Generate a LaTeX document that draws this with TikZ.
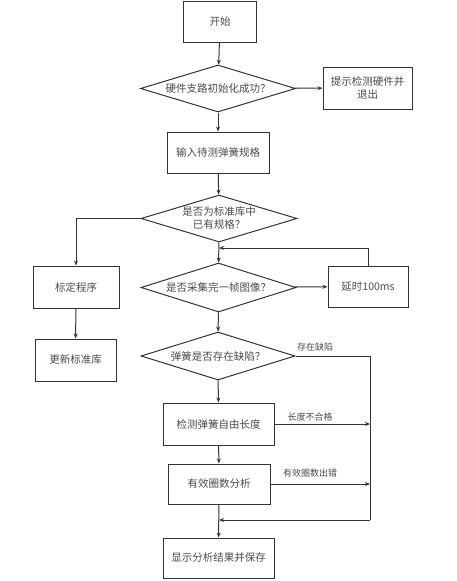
\documentclass[tikz,border=0pt]{standalone}
\usepackage{fontspec}
\setmainfont{Noto Sans CJK SC}
\usetikzlibrary{shapes.geometric,arrows.meta}
\definecolor{ln}{HTML}{333333}
\definecolor{tx}{HTML}{4A4A4A}
\tikzset{
  base/.style={font=\fontsize{10.5pt}{13pt}\selectfont, text=tx},
  box/.style={base, draw=ln, line width=1pt, rectangle, inner sep=0pt, align=center},
  dia/.style={draw=ln, line width=1pt, diamond, inner sep=0pt},
  lbl/.style={font=\fontsize{9pt}{11pt}\selectfont, text=tx, inner sep=0pt},
  arr/.style={draw=ln, line width=1pt, -{Stealth[length=5pt,width=4pt]}},
  ln/.style={draw=ln, line width=1pt}
}
\newcommand{\mkdia}[5]{% name, x, y, w, h
  \node[dia, minimum width=#4pt, minimum height=#5pt] (#1) at (#2,#3) {};
}
\begin{document}
\begin{tikzpicture}[x=1pt,y=-1pt]
\useasboundingbox (0,0) rectangle (456,581);
% nodes
\node[box, minimum width=73pt, minimum height=41pt] (start) at (220,22) {开始};
\node[dia, minimum width=155pt, minimum height=47pt] (d1) at (218,88.5) {};
\node[base, inner sep=0pt] (d1t) at (d1.center) {硬件支路初始化成功？};
\node[box, minimum width=89pt, minimum height=42pt] (r1) at (367.5,88) {提示检测硬件并\\退出};
\node[box, minimum width=102pt, minimum height=41pt] (inp) at (218,152.5) {输入待测弹簧规格};
\node[dia, minimum width=156pt, minimum height=47pt] (d2) at (219,218.5) {};
\node[base, inner sep=0pt, align=center] (d2t) at (d2.center) {是否为标准库中\\已有规格？};
\node[dia, minimum width=155pt, minimum height=49pt] (d3) at (218.5,287.5) {};
\node[base, inner sep=0pt] (d3t) at (d3.center) {是否采集完一帧图像？};
\node[box, minimum width=80pt, minimum height=41pt] (delay) at (368,286.5) {延时100ms};
\node[box, minimum width=86pt, minimum height=42pt] (calib) at (76,287) {标定程序};
\node[box, minimum width=81pt, minimum height=42pt] (upd) at (75.5,360) {更新标准库};
\node[dia, minimum width=154pt, minimum height=48pt] (d4) at (218,356) {};
\node[base, inner sep=0pt] (d4t) at (d4.center) {弹簧是否存在缺陷？};
\node[box, minimum width=111pt, minimum height=42pt] (len) at (218.5,424) {检测弹簧自由长度};
\node[box, minimum width=102pt, minimum height=40pt] (coil) at (219,484) {有效圈数分析};
\node[box, minimum width=111pt, minimum height=40pt] (fin) at (218.5,558) {显示分析结果并保存};
% junctions
\coordinate (j1) at (219,248);
\coordinate (rc) at (370,356);
\coordinate (j2) at (219,520);
% connectors
\draw[arr] (start) -- (d1);
\draw[arr] (d1) -- (r1);
\draw[arr] (d1) -- (inp);
\draw[arr] (inp) -- (d2);
\draw[arr] (d2.west) -| (calib.north);
\draw[arr] (calib) -- (upd);
\draw[arr] (d2) -- (d3);
\draw[arr] (d3) -- (delay);
\draw[arr] (delay.north) |- (j1);
\draw[arr] (d3) -- (d4);
\draw[arr] (d4) -- (len);
\draw[arr] (len) -- (coil);
\draw[arr] (coil) -- (fin);
\draw[ln] (d4.east) -- (rc) -- (rc |- j2);
\draw[arr] (rc |- j2) -- (j2);
\draw[arr] (len.east) -- (len.east -| rc);
\draw[arr] (coil.east) -- (coil.east -| rc);
% labels
\node[lbl] (l1) at (315,347) {存在缺陷};
\node[lbl] (l2) at (310,417) {长度不合格};
\node[lbl] (l3) at (310,473) {有效圈数出错};
\end{tikzpicture}
\end{document}
